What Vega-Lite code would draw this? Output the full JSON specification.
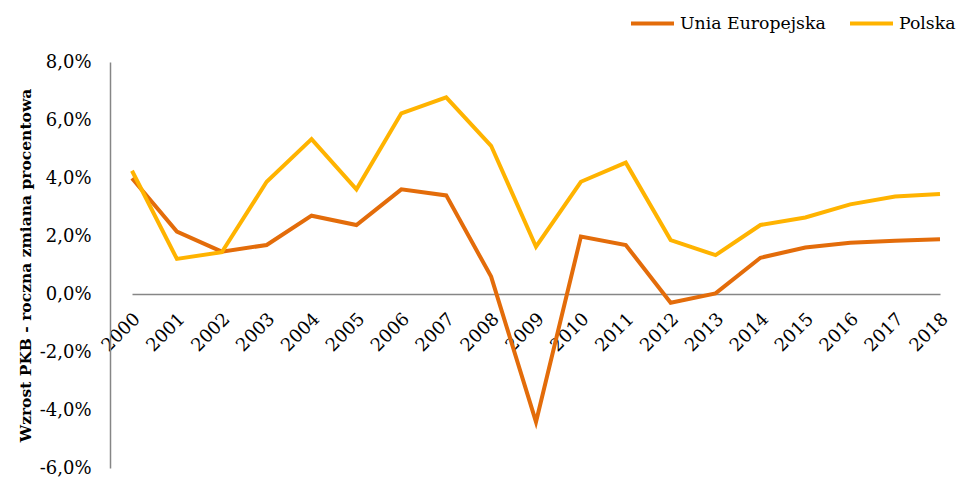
{
  "$schema": "https://vega.github.io/schema/vega-lite/v6.json",
  "autosize": "none",
  "width": 849,
  "height": 406,
  "padding": {"left": 110, "top": 62, "right": 0, "bottom": 9},
  "background": "white",
  "data": {
    "values": [
      {"rok": "2000", "seria": "Unia Europejska", "wzrost": 0.0399},
      {"rok": "2001", "seria": "Unia Europejska", "wzrost": 0.0215},
      {"rok": "2002", "seria": "Unia Europejska", "wzrost": 0.0146},
      {"rok": "2003", "seria": "Unia Europejska", "wzrost": 0.0169},
      {"rok": "2004", "seria": "Unia Europejska", "wzrost": 0.0270},
      {"rok": "2005", "seria": "Unia Europejska", "wzrost": 0.0238},
      {"rok": "2006", "seria": "Unia Europejska", "wzrost": 0.0361},
      {"rok": "2007", "seria": "Unia Europejska", "wzrost": 0.0340},
      {"rok": "2008", "seria": "Unia Europejska", "wzrost": 0.0060},
      {"rok": "2009", "seria": "Unia Europejska", "wzrost": -0.0441},
      {"rok": "2010", "seria": "Unia Europejska", "wzrost": 0.0198},
      {"rok": "2011", "seria": "Unia Europejska", "wzrost": 0.0169},
      {"rok": "2012", "seria": "Unia Europejska", "wzrost": -0.0030},
      {"rok": "2013", "seria": "Unia Europejska", "wzrost": 0.0002},
      {"rok": "2014", "seria": "Unia Europejska", "wzrost": 0.0125},
      {"rok": "2015", "seria": "Unia Europejska", "wzrost": 0.0160},
      {"rok": "2016", "seria": "Unia Europejska", "wzrost": 0.0177},
      {"rok": "2017", "seria": "Unia Europejska", "wzrost": 0.0184},
      {"rok": "2018", "seria": "Unia Europejska", "wzrost": 0.0189},
      {"rok": "2000", "seria": "Polska", "wzrost": 0.0425},
      {"rok": "2001", "seria": "Polska", "wzrost": 0.0121},
      {"rok": "2002", "seria": "Polska", "wzrost": 0.0144},
      {"rok": "2003", "seria": "Polska", "wzrost": 0.0387},
      {"rok": "2004", "seria": "Polska", "wzrost": 0.0534},
      {"rok": "2005", "seria": "Polska", "wzrost": 0.0361},
      {"rok": "2006", "seria": "Polska", "wzrost": 0.0623},
      {"rok": "2007", "seria": "Polska", "wzrost": 0.0678},
      {"rok": "2008", "seria": "Polska", "wzrost": 0.0511},
      {"rok": "2009", "seria": "Polska", "wzrost": 0.0163},
      {"rok": "2010", "seria": "Polska", "wzrost": 0.0387},
      {"rok": "2011", "seria": "Polska", "wzrost": 0.0453},
      {"rok": "2012", "seria": "Polska", "wzrost": 0.0186},
      {"rok": "2013", "seria": "Polska", "wzrost": 0.0134},
      {"rok": "2014", "seria": "Polska", "wzrost": 0.0238},
      {"rok": "2015", "seria": "Polska", "wzrost": 0.0264},
      {"rok": "2016", "seria": "Polska", "wzrost": 0.0309},
      {"rok": "2017", "seria": "Polska", "wzrost": 0.0336},
      {"rok": "2018", "seria": "Polska", "wzrost": 0.0345}
    ]
  },
  "mark": {"type": "line", "strokeWidth": 4, "strokeJoin": "miter", "strokeCap": "butt"},
  "encoding": {
    "x": {
      "field": "rok",
      "type": "ordinal",
      "scale": {"type": "point", "range": [22, 830], "padding": 0},
      "axis": {
        "title": null,
        "offset": -174,
        "labelAngle": -45,
        "labelAlign": "right",
        "labelBaseline": "middle",
        "labelPadding": 22,
        "labelOffset": 5,
        "ticks": false,
        "tickSize": 0,
        "domainColor": "#868686",
        "domainWidth": 1.5,
        "labelFont": "DejaVu Serif",
        "labelFontSize": 18,
        "labelColor": "#000000",
        "grid": false
      }
    },
    "y": {
      "field": "wzrost",
      "type": "quantitative",
      "scale": {"domain": [-0.06, 0.08], "nice": false, "zero": false},
      "axis": {
        "title": "Wzrost PKB - roczna zmiana procentowa",
        "titleFont": "DejaVu Serif",
        "titleFontWeight": "bold",
        "titleFontSize": 15.5,
        "titleColor": "#000000",
        "titlePadding": 6,
        "values": [-0.06, -0.04, -0.02, 0, 0.02, 0.04, 0.06, 0.08],
        "labelExpr": "replace(replace(format(datum.value, '.1%'), '.', ','), '\u2212', '-')",
        "labelFont": "DejaVu Serif",
        "labelFontSize": 18,
        "labelColor": "#000000",
        "labelPadding": 19,
        "ticks": false,
        "tickSize": 0,
        "domainColor": "#868686",
        "domainWidth": 1.5,
        "grid": false
      }
    },
    "color": {
      "field": "seria",
      "type": "nominal",
      "sort": ["Unia Europejska", "Polska"],
      "scale": {"domain": ["Unia Europejska", "Polska"], "range": ["#E36C0A", "#FFB300"]},
      "legend": {
        "title": null,
        "orient": "none",
        "legendX": 519,
        "legendY": -62,
        "direction": "horizontal",
        "symbolType": "stroke",
        "symbolSize": 1849,
        "symbolStrokeWidth": 4,
        "labelFont": "DejaVu Serif",
        "labelFontSize": 17.3,
        "labelColor": "#000000",
        "labelOffset": 4,
        "columnPadding": 16,
        "padding": 0
      }
    }
  },
  "config": {"view": {"stroke": null}}
}
